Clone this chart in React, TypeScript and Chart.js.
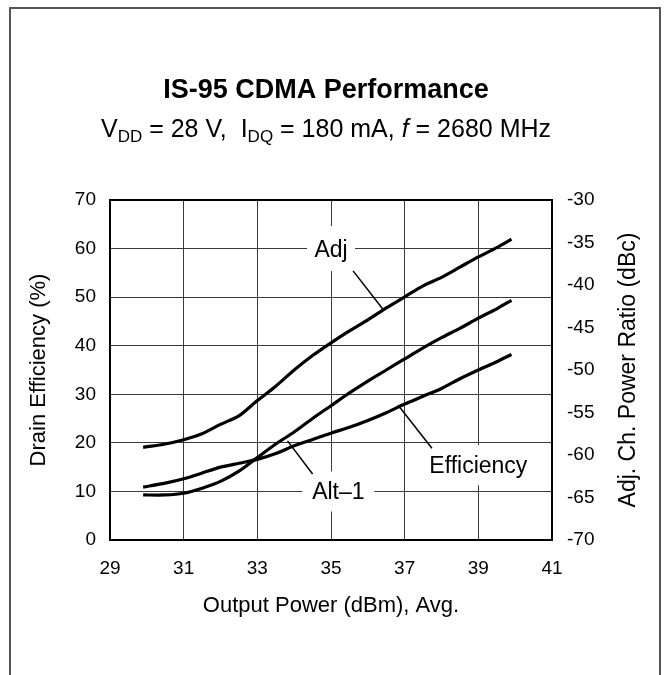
import React, { useEffect, useRef } from "react";
import { Chart, registerables } from "chart.js";

Chart.register(...registerables);

// ---- data ----
const outputPower = [29.9, 30.5, 31, 31.5, 32, 32.5, 33, 33.5, 34, 34.5, 35, 35.5, 36, 36.5, 37, 37.5, 38, 38.5, 39, 39.5, 39.9];
const drainEfficiency = [10.9, 11.7, 12.6, 13.8, 15.0, 15.8, 16.6, 17.8, 19.4, 20.7, 22.0, 23.2, 24.6, 26.2, 28.0, 29.6, 31.2, 33.2, 35.0, 36.7, 38.2];
const adjACPR = [-59.1, -58.7, -58.2, -57.5, -56.4, -55.4, -53.6, -51.9, -50.0, -48.3, -46.8, -45.4, -44.1, -42.7, -41.4, -40.1, -39.1, -37.9, -36.7, -35.6, -34.6];
const alt1ACPR = [-64.7, -64.7, -64.5, -63.9, -63.1, -61.9, -60.3, -58.7, -57.3, -55.7, -54.2, -52.7, -51.3, -50.0, -48.7, -47.4, -46.2, -45.1, -43.9, -42.8, -41.8];

const xRange = [29, 41];
const effRange = [0, 70];
const acprRange = [-70, -30];

const TITLE = "IS-95 CDMA Performance";
const X_TITLE = "Output Power (dBm), Avg.";
const Y_TITLE = "Drain Efficiency (%)";
const Y1_TITLE = "Adj. Ch. Power Ratio (dBc)";

const FONT = "'Liberation Sans', Arial, Helvetica, sans-serif";

// callout labels, anchored in data units (x in dBm, y on the efficiency scale)
const callouts = [
  { text: "Adj", at: [35.0, 60], box: [48, 45], from: [35.6, 55.4], to: [36.4, 47.6] },
  { text: "Alt\u20131", at: [35.2, 10], box: [72, 40], from: [34.5, 13.6], to: [33.82, 20.4] },
  { text: "Efficiency", at: [39.0, 15.4], box: [110, 40], from: [37.74, 18.9], to: [36.85, 27.5] },
];

const pts = (xs: number[], ys: number[]) => xs.map((x, i) => ({ x, y: ys[i] }));

const decorPlugin = {
  id: "decor",
  beforeDraw(chart: any) {
    const { ctx, width, height } = chart;
    ctx.save();
    ctx.fillStyle = "#fff";
    ctx.fillRect(0, 0, width, height);
    ctx.restore();
  },
  afterDatasetsDraw(chart: any) {
    const { ctx, chartArea, scales } = chart;
    const { left, right, top, bottom } = chartArea;
    ctx.save();
    // plot frame
    ctx.strokeStyle = "#000";
    ctx.lineWidth = 2;
    ctx.strokeRect(left, top, right - left, bottom - top);

    // callouts
    for (const c of callouts) {
      const cx = scales.x.getPixelForValue(c.at[0]);
      const cy = scales.y.getPixelForValue(c.at[1]);
      ctx.fillStyle = "#fff";
      ctx.fillRect(cx - c.box[0] / 2, cy - c.box[1] / 2, c.box[0], c.box[1]);
      ctx.fillStyle = "#000";
      ctx.font = `23px ${FONT}`;
      ctx.textAlign = "center";
      ctx.textBaseline = "alphabetic";
      ctx.fillText(c.text, cx, cy + 8);
      ctx.beginPath();
      ctx.lineWidth = 1.5;
      ctx.moveTo(scales.x.getPixelForValue(c.from[0]), scales.y.getPixelForValue(c.from[1]));
      ctx.lineTo(scales.x.getPixelForValue(c.to[0]), scales.y.getPixelForValue(c.to[1]));
      ctx.stroke();
    }

    // title
    ctx.fillStyle = "#000";
    ctx.textAlign = "center";
    ctx.textBaseline = "alphabetic";
    ctx.font = `bold 27px ${FONT}`;
    ctx.fillText(TITLE, 326, 98);

    // subtitle with subscripts
    const main = `25px ${FONT}`;
    const sub = `17px ${FONT}`;
    const ital = `italic 25px ${FONT}`;
    const parts: [string, string, number][] = [
      ["V", main, 0],
      ["DD", sub, 5],
      [" = 28 V,  I", main, 0],
      ["DQ", sub, 5],
      [" = 180 mA, ", main, 0],
      ["f", ital, 0],
      [" = 2680 MHz", main, 0],
    ];
    let total = 0;
    for (const [t, f] of parts) {
      ctx.font = f;
      total += ctx.measureText(t).width;
    }
    let x = 326 - total / 2;
    ctx.textAlign = "left";
    for (const [t, f, dy] of parts) {
      ctx.font = f;
      ctx.fillText(t, x, 137 + dy);
      x += ctx.measureText(t).width;
    }

    // right axis title (reads bottom to top)
    ctx.save();
    ctx.translate(629, (top + bottom) / 2);
    ctx.rotate(-Math.PI / 2);
    ctx.font = `23px ${FONT}`;
    ctx.textAlign = "center";
    ctx.textBaseline = "middle";
    ctx.fillText(Y1_TITLE, 0, 0);
    ctx.restore();

    // outer frame
    ctx.strokeStyle = "#555";
    ctx.lineWidth = 2;
    ctx.beginPath();
    ctx.moveTo(10, 700);
    ctx.lineTo(10, 8);
    ctx.lineTo(660, 8);
    ctx.lineTo(660, 700);
    ctx.stroke();
    ctx.restore();
  },
};

export default function App() {
  const ref = useRef<HTMLCanvasElement | null>(null);
  useEffect(() => {
    if (!ref.current) return;
    const line = (label: string, data: any, axis: string) => ({
      label,
      data,
      yAxisID: axis,
      borderColor: "#000",
      backgroundColor: "#000",
      borderWidth: 3.2,
      pointRadius: 0,
      tension: 0.25,
      fill: false,
    });
    const grid = { color: "#3a3a3a", lineWidth: 1, drawTicks: false };
    const chart = new Chart(ref.current, {
      type: "line",
      data: {
        datasets: [
          line("Efficiency", pts(outputPower, drainEfficiency), "y"),
          line("Adj", pts(outputPower, adjACPR), "y1"),
          line("Alt\u20131", pts(outputPower, alt1ACPR), "y1"),
        ],
      },
      options: {
        animation: false,
        responsive: false,
        devicePixelRatio: 1,
        layout: { padding: { top: 200, left: 0, right: 0, bottom: 0 } },
        plugins: { legend: { display: false }, tooltip: { enabled: false } },
        scales: {
          x: {
            type: "linear",
            min: xRange[0],
            max: xRange[1],
            ticks: { stepSize: 2, color: "#000", padding: 17, font: { family: FONT, size: 19 } },
            grid,
            border: { display: false },
            title: { display: true, text: X_TITLE, color: "#000", font: { family: FONT, size: 22 }, padding: { bottom: 56 } },
            afterFit: (s: any) => { s.height = 135; },
          },
          y: {
            position: "left",
            min: effRange[0],
            max: effRange[1],
            ticks: { stepSize: 10, color: "#000", padding: 14, font: { family: FONT, size: 19 } },
            grid,
            border: { display: false },
            title: { display: true, text: Y_TITLE, color: "#000", font: { family: FONT, size: 22 }, padding: { top: 26 } },
            afterFit: (s: any) => { s.width = 110; },
          },
          y1: {
            position: "right",
            min: acprRange[0],
            max: acprRange[1],
            ticks: { stepSize: 5, color: "#000", padding: 15, font: { family: FONT, size: 19 } },
            grid: { display: false, drawTicks: false },
            border: { display: false },
            afterFit: (s: any) => { s.width = 112; },
          },
        },
      } as any,
      plugins: [decorPlugin],
    });
    return () => chart.destroy();
  }, []);
  return (
    <div style={{ position: "absolute", left: 0, top: 0, width: 664, height: 675 }}>
      <canvas ref={ref} width={664} height={675} style={{ width: 664, height: 675, display: "block" }} />
    </div>
  );
}
